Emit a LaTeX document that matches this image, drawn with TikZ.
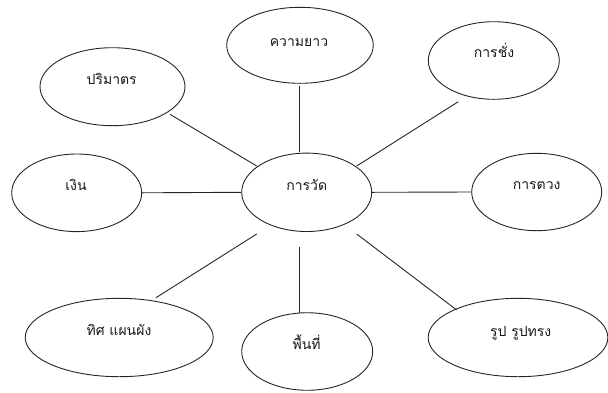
\documentclass[tikz,border=0pt]{standalone}
\usepackage{fontspec}
\newfontfamily\thaifont[Script=Thai]{Loma}
\usetikzlibrary{shapes.geometric}
\tikzset{
  bubble/.style={draw=black!85, line width=0.9pt, ellipse, inner sep=0pt},
  lbl/.style={anchor=base, inner sep=0pt, font=\thaifont\fontsize{14}{16}\selectfont, text=black!90},
  link/.style={draw=black!85, line width=0.9pt}
}
\begin{document}
\begin{tikzpicture}[x=1pt,y=-1pt]
\useasboundingbox (0,0) rectangle (608,392);
% ellipses
\node[bubble, minimum width=130pt, minimum height=78.4pt] (C) at (306.7,192.3) {};
\node[bubble, minimum width=145pt, minimum height=78pt] (P) at (112.5,86.7) {};
\node[bubble, minimum width=146.6pt, minimum height=76pt] (L) at (300,45.3) {};
\node[bubble, minimum width=131pt, minimum height=77.6pt] (W) at (493.8,60.5) {};
\node[bubble, minimum width=130pt, minimum height=77.6pt] (G) at (76.7,192.8) {};
\node[bubble, minimum width=130pt, minimum height=77.4pt] (T) at (536.7,192) {};
\node[bubble, minimum width=188pt, minimum height=78.4pt] (D) at (119.2,337.5) {};
\node[bubble, minimum width=131pt, minimum height=77.5pt] (A) at (307.2,351.5) {};
\node[bubble, minimum width=179.7pt, minimum height=78.4pt] (R) at (518,337.5) {};
% labels
\node[lbl] (tC) at (306.7,190.7) {การวัด};
\node[lbl] (tP) at (111.7,84) {ปริมาตร};
\node[lbl] (tL) at (299,46.7) {ความยาว};
\node[lbl] (tW) at (494,57.3) {การชั่ง};
\node[lbl] (tG) at (76,190) {เงิน};
\node[lbl] (tT) at (536.7,189.3) {การตวง};
\node[lbl] (tD) at (119,335) {ทิศ แผนผัง};
\node[lbl] (tA) at (306.7,349.3) {พื้นที่};
\node[lbl] (tR) at (520.7,336) {รูป รูปทรง};
% connectors
\draw[link] ([shift={(57.5,27.6)}]P.center) -- ([shift={(-50,-26.3)}]C.center);
\draw[link] ([shift={(-0.7,40.4)}]L.center) -- ([shift={(-7.4,-40.6)}]C.center);
\draw[link] ([shift={(-35.5,41.2)}]W.center) -- ([shift={(50,-26.3)}]C.center);
\draw[link] (G.east) -- (C.west);
\draw[link] (C.east) -- (T.west);
\draw[link] ([shift={(-50,41.7)}]C.center) -- ([shift={(36.8,-39.8)}]D.center);
\draw[link] ([shift={(-7.7,54.4)}]C.center) -- ([shift={(-8.2,-38.8)}]A.center);
\draw[link] ([shift={(50,41.7)}]C.center) -- ([shift={(-61.3,-27.5)}]R.center);
\end{tikzpicture}
\end{document}
